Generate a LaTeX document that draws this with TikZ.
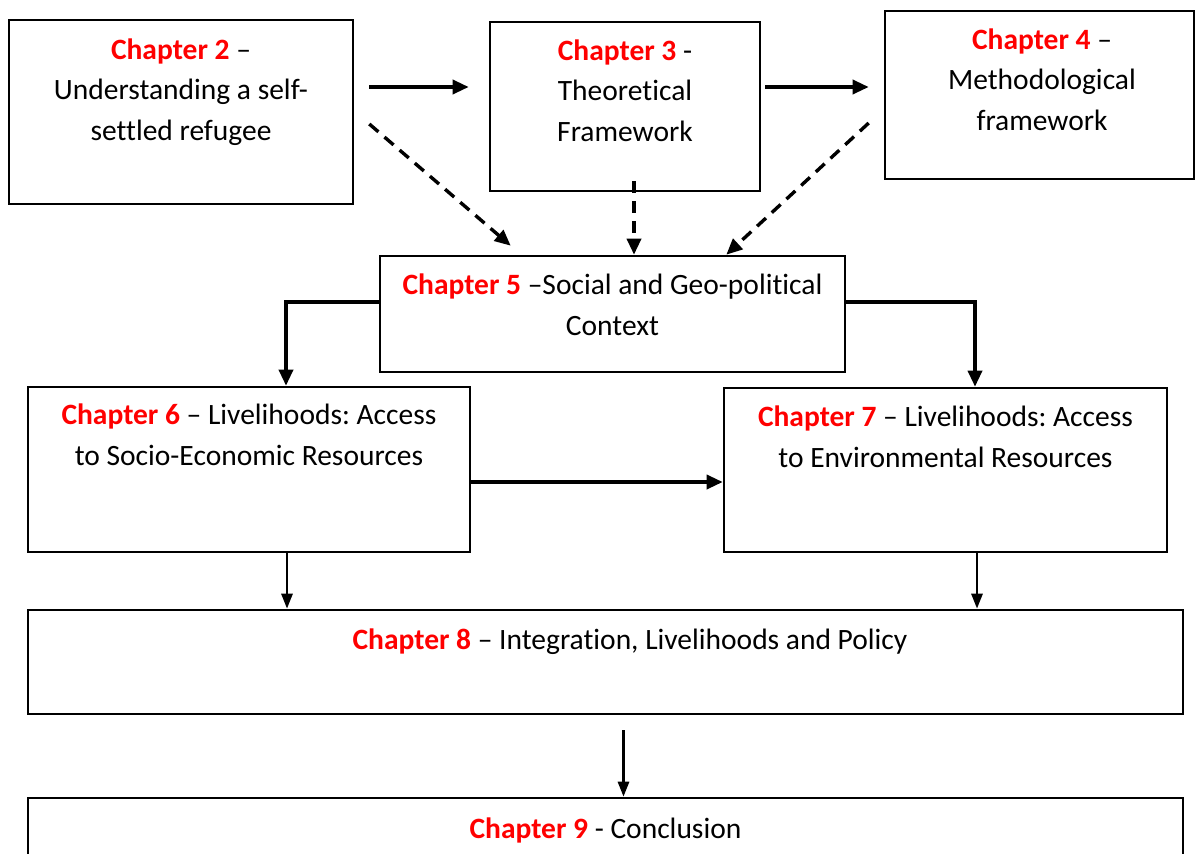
\documentclass[tikz,border=0pt]{standalone}
\usepackage{fontspec}
\setmainfont{Carlito}[Ligatures=NoCommon]
\usetikzlibrary{arrows.meta,calc}
\definecolor{chapred}{RGB}{255,0,0}
\newcommand{\chap}[1]{\textbf{\textcolor{chapred}{Chapter #1}}}
\frenchspacing

\begin{document}
\begin{tikzpicture}[x=1pt,y=-1pt,
  box/.style={draw, line width=2.6pt, rectangle, inner sep=0pt},
  % anchor=base sits on the last line of a multi-line title
  txt/.style={align=center, inner sep=0pt, anchor=base, font=\fontsize{29.5}{40.5}\selectfont},
  arr/.style={line width=3.4pt, -{Triangle[length=16pt,width=14pt]}},
  darr/.style={line width=3.4pt, dash pattern=on 12pt off 8pt, -{Triangle[length=16pt,width=14pt]}},
  thinarr/.style={line width=2.8pt, -{Triangle[length=15pt,width=11pt]}}]
\useasboundingbox (0,0) rectangle (1195,854);
\clip (0,0) rectangle (1195,854);

% chapter boxes
\node[box, minimum width=344pt, minimum height=184pt] (c2) at (181,112) {};
\node[box, minimum width=270pt, minimum height=169pt] (c3) at (625,106.5) {};
\node[box, minimum width=309pt, minimum height=168pt] (c4) at (1039.5,95) {};
\node[box, minimum width=465pt, minimum height=116pt] (c5) at (612.5,314) {};
\node[box, minimum width=442pt, minimum height=165pt] (c6) at (249,469.5) {};
\node[box, minimum width=443pt, minimum height=164pt] (c7) at (945.5,470) {};
\node[box, minimum width=1155pt, minimum height=104pt] (c8) at (605.5,662) {};
\node[box, minimum width=1155pt, minimum height=102pt] (c9) at (605.5,849) {};

% chapter titles
\node[txt] (t2) at (181,140) {\chap{2} –\\Understanding a self-\\settled refugee};
\node[txt] (t3) at (625,141) {\chap{3} -\\Theoretical\\Framework};
\node[txt] (t4) at (1042,130) {\chap{4} –\\Methodological\\framework};
\node[txt] (t5) at (612.5,335) {\chap{5} –Social and Geo-political\\Context};
\node[txt] (t6) at (249,465) {\chap{6} – Livelihoods: Access\\to Socio-Economic Resources};
\node[txt] (t7) at (945.5,467) {\chap{7} – Livelihoods: Access\\to Environmental Resources};
\node[txt] (t8) at (630,649) {\chap{8} – Integration, Livelihoods and Policy};
\node[txt] (t9) at (605.5,838) {\chap{9} - Conclusion};

% sequence along the top row
\draw[arr, shorten <=15pt, shorten >=20pt] ([yshift=25pt]c2.east) -- ([yshift=19.5pt]c3.west);
\draw[arr, shorten <=4pt, shorten >=15pt] ([yshift=19.5pt]c3.east) -- ([yshift=8pt]c4.west);

% dashed links into chapter 5
\draw[darr] ([xshift=15pt,yshift=-12pt]c2.east) -- ([xshift=132pt,yshift=9pt]c5.north west);
\draw[darr] ([xshift=9pt,yshift=11pt]c3.south) -- ([xshift=21.5pt]c5.north);
\draw[darr] ([xshift=-15pt,yshift=-28pt]c4.west) -- ([xshift=-120pt]c5.north east);

% chapter 5 branches
\coordinate (p5l) at ([yshift=12pt]c5.west);
\coordinate (p5r) at ([yshift=12pt]c5.east);
\coordinate (p6n) at ([xshift=37pt]c6.north);
\coordinate (p7n) at ([xshift=29.5pt]c7.north);
\draw[arr] (p5l) -| (p6n);
\draw[arr] (p5r) -| (p7n);

% chapter 6 to chapter 7
\draw[arr] ([yshift=-12.5pt]c6.east) -- ([yshift=-12pt]c7.west);

% into chapter 8 and 9
\coordinate (p6s) at ([xshift=38pt]c6.south);
\coordinate (p7s) at ([xshift=31.5pt]c7.south);
\coordinate (p8s) at ([xshift=18pt,yshift=-15pt]c8.south);
\draw[thinarr] (p6s) -- (p6s |- c8.north);
\draw[thinarr] (p7s) -- (p7s |- c8.north);
\draw[thinarr] (p8s) -- (p8s |- c9.north);
\end{tikzpicture}
\end{document}
